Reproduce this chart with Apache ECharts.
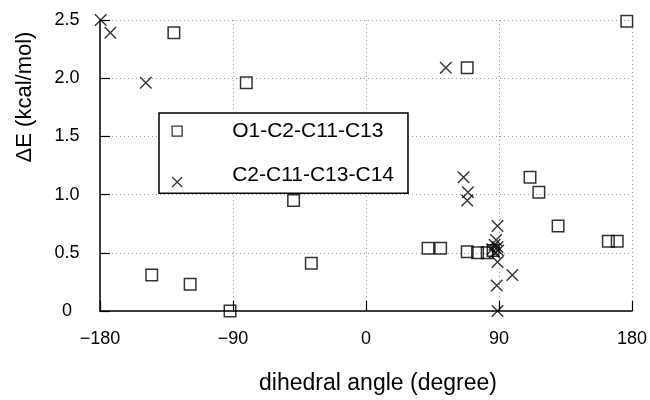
<!DOCTYPE html>
<html>
<head>
<meta charset="utf-8">
<script src="https://cdn.jsdelivr.net/npm/echarts@6/dist/echarts.min.js"></script>
<style>
  html, body { margin: 0; padding: 0; background: #fff; }
  #chart { width: 650px; height: 400px; }
</style>
</head>
<body>
<div id="chart"></div>
<script>
// ---- data ----
const seriesNames = ['O1-C2-C11-C13', 'C2-C11-C13-C14'];
const xTickLabels = ['\u2212180', '\u221290', '0', '90', '180'];
const yTickLabels = ['0', '0.5', '1.0', '1.5', '2.0', '2.5'];
const xAxisTitle = 'dihedral angle (degree)';
const yAxisTitle = '\u0394E (kcal/mol)';

// O1-C2-C11-C13 (squares): [angle, energy]
const o1c2c11c13 = [
  [-130, 2.39], [-81, 1.96], [-145, 0.31], [-119, 0.23], [-92, 0.0],
  [-49, 0.95], [-37, 0.41], [68.5, 2.09], [176.5, 2.49],
  [42, 0.54], [50.5, 0.54], [68.5, 0.51], [75.5, 0.50], [82, 0.50], [86, 0.52],
  [111, 1.15], [117, 1.02], [130, 0.73], [164, 0.60], [170, 0.60]
];
// C2-C11-C13-C14 (crosses): [angle, energy]
const c2c11c13c14 = [
  [-179.5, 2.50], [-173, 2.39], [-149, 1.96], [54, 2.09],
  [66, 1.15], [69, 1.02], [68.5, 0.95], [89, 0.73],
  [88, 0.61], [87, 0.57], [85.5, 0.53], [87, 0.50], [89, 0.55], [89.5, 0.52],
  [89, 0.42], [99, 0.31], [88.5, 0.22], [89, 0.0]
];

const FONT = 'Liberation Sans';
const crossPath = 'path://M0,0L10,10M10,0L0,10';
const legendSquare = 'path://M0,0M14,28M2,9L12,9L12,19L2,19Z';
const legendCross = 'path://M0,0M14,28M2,16L12,26M12,16L2,26';

const chart = echarts.init(document.getElementById('chart'), null, { renderer: 'canvas' });
const gridLine = { show: true, lineStyle: { color: '#9a9a9a', width: 1, type: [1, 3] } };

chart.setOption({
  animation: false,
  backgroundColor: '#fff',
  grid: { left: 100, right: 18, top: 20, bottom: 83 },
  xAxis: {
    type: 'value', min: -180, max: 180, interval: 90,
    name: xAxisTitle, nameLocation: 'middle', nameGap: 61,
    nameTextStyle: { fontFamily: FONT, fontSize: 23, color: '#000', padding: [0, 0, 0, 24] },
    axisLine: { show: true, onZero: false, lineStyle: { color: '#000', width: 1.5 } },
    axisTick: { show: true, inside: true, length: 10, lineStyle: { color: '#000', width: 1.2 } },
    axisLabel: {
      margin: 19, color: '#000', fontFamily: FONT, fontSize: 18,
      formatter: v => xTickLabels[Math.round((v + 180) / 90)]
    },
    splitLine: gridLine
  },
  yAxis: {
    type: 'value', min: 0, max: 2.5, interval: 0.5,
    axisLine: { show: true, onZero: false, lineStyle: { color: '#000', width: 1.5 } },
    axisTick: { show: true, inside: true, length: 10, lineStyle: { color: '#000', width: 1.2 } },
    axisLabel: {
      margin: 33, align: 'center', color: '#000', fontFamily: FONT, fontSize: 18,
      formatter: v => yTickLabels[Math.round(v / 0.5)]
    },
    splitLine: gridLine
  },
  legend: {
    orient: 'vertical', left: 159, top: 113,
    padding: [3.5, 14, 3.5, 10.5],
    itemWidth: 14, itemHeight: 28, itemGap: 14.6,
    selectedMode: false,
    backgroundColor: '#fff', borderColor: '#000', borderWidth: 1.5,
    textStyle: { fontFamily: FONT, fontSize: 21, color: '#000', padding: [0, 0, 0, 43] },
    data: [
      { name: seriesNames[0], icon: legendSquare,
        itemStyle: { color: 'rgba(0,0,0,0)', borderColor: '#000', borderWidth: 1.3 } },
      { name: seriesNames[1], icon: legendCross,
        itemStyle: { color: 'rgba(0,0,0,0)', borderColor: '#000', borderWidth: 1.3 } }
    ]
  },
  graphic: [{
    type: 'text', x: 25, y: 97, rotation: Math.PI / 2,
    style: { text: yAxisTitle, font: '22px "' + FONT + '"', fill: '#000', align: 'center', verticalAlign: 'middle' }
  }],
  series: [
    {
      name: seriesNames[0], type: 'scatter', data: o1c2c11c13, clip: false,
      symbol: 'rect', symbolSize: 11.5,
      itemStyle: { color: 'rgba(0,0,0,0)', borderColor: '#000', borderWidth: 1.5 },
      emphasis: { disabled: true }, z: 3
    },
    {
      name: seriesNames[1], type: 'scatter', data: c2c11c13c14, clip: false,
      symbol: crossPath, symbolSize: 11.5,
      itemStyle: { color: 'rgba(0,0,0,0)', borderColor: '#000', borderWidth: 1.4 },
      emphasis: { disabled: true }, z: 3
    }
  ]
});
</script>
</body>
</html>
